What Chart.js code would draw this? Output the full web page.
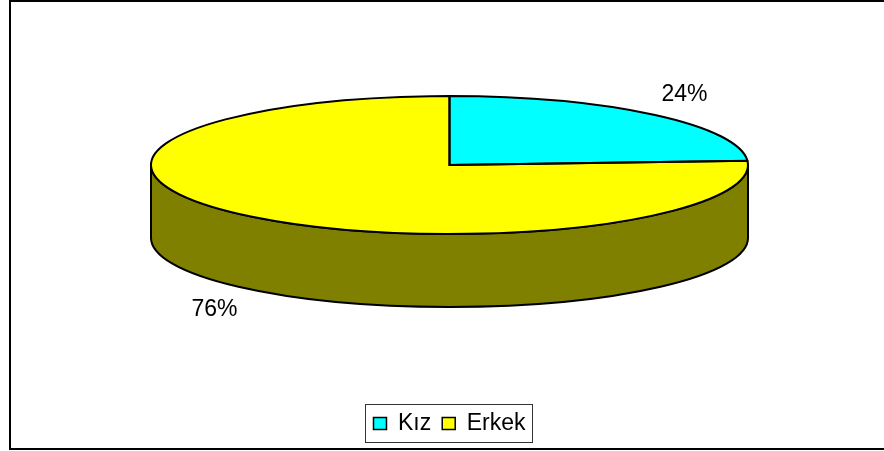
<!DOCTYPE html>
<html>
<head>
<meta charset="utf-8">
<style>
  html, body { margin: 0; padding: 0; background: #fff; }
  canvas { display: block; }
</style>
<script src="https://cdn.jsdelivr.net/npm/chart.js@4"></script>
</head>
<body>
<canvas id="pie3d" width="884" height="451"></canvas>
<script>
const categories = ["Kız", "Erkek"];
const percents = [24, 76];
const sliceColors = ["#00ffff", "#ffff00"];
const wallColors = ["#008080", "#808000"];

const fontName = "'Liberation Sans', Arial, sans-serif";
const pieRadius = 298.5;
const pieCenterY = 165;
const squash = 69 / 298.5;
const wallDepth = 73;

// pie is flattened here, the chart itself only knows a round one
const pie3d = {
  id: "pie3d",
  beforeDraw(chart) {
    const ctx = chart.ctx;
    ctx.save();
    ctx.strokeStyle = "#000";
    ctx.lineWidth = 2;
    ctx.strokeRect(10, 1, 900, 448);
    // legend frame
    const hit = chart.legend.legendHitBoxes;
    const last = hit[hit.length - 1];
    const left = Math.round(hit[0].left) - 7.5;
    const right = Math.round(last.left + last.width) + 6.5;
    ctx.lineWidth = 1;
    ctx.strokeStyle = "#333";
    ctx.strokeRect(left, 404.5, right - left, 38);
    ctx.restore();
  },
  beforeDatasetsDraw(chart) {
    const ctx = chart.ctx;
    const arcs = chart.getDatasetMeta(0).data;
    const ry = pieRadius * squash;
    ctx.save();
    ctx.lineWidth = 2;
    ctx.strokeStyle = "#000";
    arcs.forEach((arc, i) => {
      const s = Math.max(arc.startAngle, 0);
      const e = Math.min(arc.endAngle, Math.PI);
      if (e <= s) return;
      ctx.beginPath();
      ctx.ellipse(arc.x, pieCenterY, pieRadius, ry, 0, s, e);
      ctx.ellipse(arc.x, pieCenterY + wallDepth, pieRadius, ry, 0, e, s, true);
      ctx.closePath();
      ctx.fillStyle = wallColors[i];
      ctx.fill();
      ctx.stroke();
    });
    ctx.restore();

    ctx.save();
    const a = arcs[0];
    ctx.translate(a.x, pieCenterY);
    ctx.scale(1, squash);
    ctx.translate(-a.x, -a.y);
  },
  afterDatasetsDraw(chart) {
    const ctx = chart.ctx;
    ctx.restore();
    const arcs = chart.getDatasetMeta(0).data;
    const ry = pieRadius * squash;
    ctx.save();
    ctx.lineWidth = 2;
    ctx.strokeStyle = "#000";
    ctx.fillStyle = "#000";
    ctx.font = "23px " + fontName;
    ctx.textAlign = "center";
    ctx.textBaseline = "middle";
    arcs.forEach((arc, i) => {
      ctx.beginPath();
      ctx.moveTo(arc.x, pieCenterY);
      ctx.ellipse(arc.x, pieCenterY, pieRadius, ry, 0, arc.startAngle, arc.endAngle);
      ctx.closePath();
      ctx.stroke();

      const mid = (arc.startAngle + arc.endAngle) / 2;
      const lx = arc.x + pieRadius * 1.15 * Math.cos(mid);
      const sin = Math.sin(mid);
      const ly = pieCenterY + 1 + ry * 1.41 * sin + (sin > 0 ? wallDepth : 0);
      ctx.fillText(percents[i] + "%", lx, ly);
    });
    ctx.restore();
  },
};

new Chart(document.getElementById("pie3d").getContext("2d"), {
  type: "pie",
  data: {
    labels: categories,
    datasets: [{
      data: percents,
      backgroundColor: sliceColors,
      borderWidth: 0,
      clip: false,
      radius: pieRadius,
    }],
  },
  options: {
    responsive: false,
    animation: false,
    layout: { padding: { left: 15, bottom: 6 } },
    plugins: {
      tooltip: { enabled: false },
      legend: {
        position: "bottom",
        labels: {
          color: "#000",
          font: { family: fontName, size: 23 },
          boxWidth: 13,
          boxHeight: 12,
          padding: 11,
          generateLabels(chart) {
            return Chart.overrides.pie.plugins.legend.labels.generateLabels(chart).map((item) => ({
              ...item,
              lineWidth: 1.5,
              strokeStyle: "#000",
            }));
          },
        },
      },
    },
  },
  plugins: [pie3d],
});
</script>
</body>
</html>
